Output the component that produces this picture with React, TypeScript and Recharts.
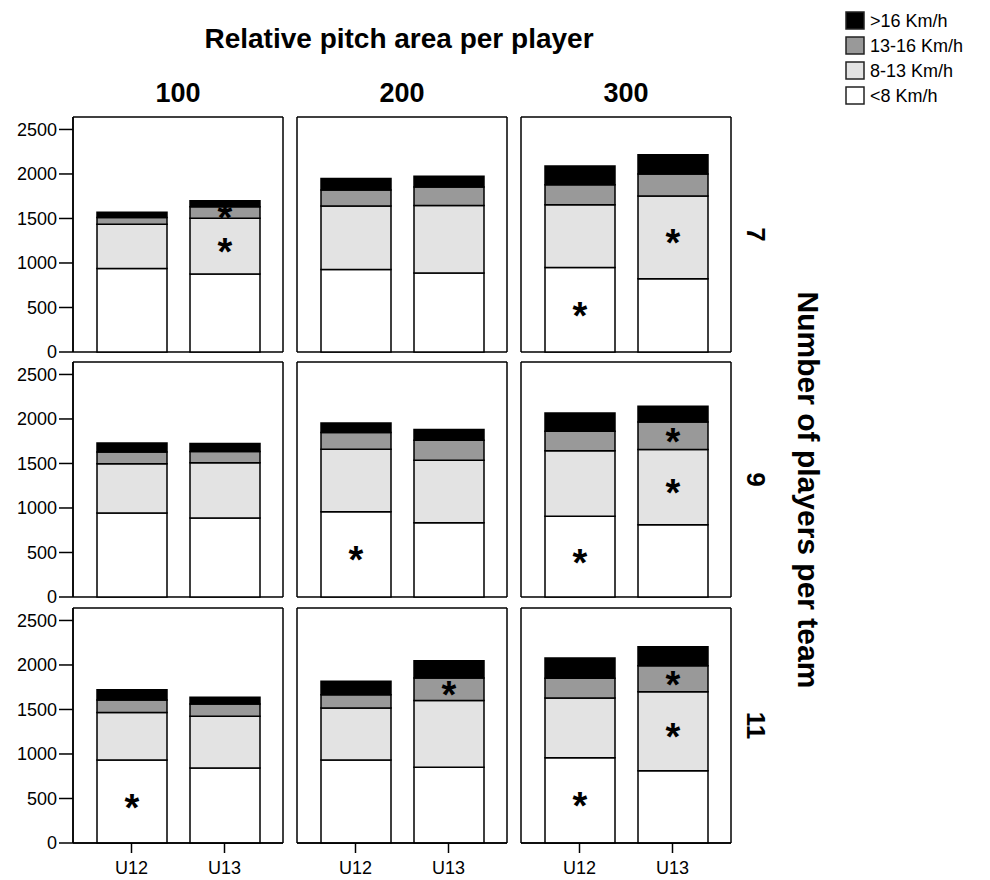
import { BarChart, Bar, XAxis, YAxis, CartesianGrid, LabelList } from 'recharts';

const FONT = '"Liberation Sans", Arial, Helvetica, sans-serif';

const areaPerPlayer = ['100', '200', '300'];
const playersPerTeam = ['7', '9', '11'];
const ageGroups = ['U12', 'U13'];
const yTicks = [0, 500, 1000, 1500, 2000, 2500];

// distance covered per speed zone, one [U12, U13] pair per panel
// panels run row by row: 7 players (100, 200, 300), 9 players, 11 players
const under8 = [
    [937, 877], [926, 888], [949, 822],
    [944, 888], [959, 835], [907, 813],
    [932, 843], [932, 850], [958, 812],
];
const from8to13 = [
    [498, 625], [715, 759], [706, 930],
    [552, 619], [702, 702], [735, 844],
    [535, 580], [585, 752], [671, 888],
];
const from13to16 = [
    [75, 131], [178, 206], [223, 249],
    [134, 128], [187, 224], [220, 309],
    [140, 139], [149, 252], [221, 292],
];
const over16 = [
    [60, 67], [130, 122], [212, 216],
    [101, 89], [107, 120], [205, 176],
    [115, 74], [150, 194], [229, 214],
];

// segments flagged with an asterisk: [panel, age group, series key]
const significant: [number, string, string][] = [
    [0, 'U13', 'mid'], [0, 'U13', 'high'],
    [2, 'U12', 'low'], [2, 'U13', 'mid'],
    [4, 'U12', 'low'],
    [5, 'U12', 'low'], [5, 'U13', 'mid'], [5, 'U13', 'high'],
    [6, 'U12', 'low'],
    [7, 'U13', 'high'],
    [8, 'U12', 'low'], [8, 'U13', 'mid'], [8, 'U13', 'high'],
];

const series = [
    { key: 'low', name: '<8 Km/h', fill: '#ffffff', values: under8 },
    { key: 'mid', name: '8-13 Km/h', fill: '#e3e3e3', values: from8to13 },
    { key: 'high', name: '13-16 Km/h', fill: '#999999', values: from13to16 },
    { key: 'sprint', name: '>16 Km/h', fill: '#000000', values: over16 },
];

const PANEL_W = 210;
const PANEL_H = 235;
const colLeft = [73, 297, 521];
const rowTop = [117, 362, 608];
const M = 12;
const STAR = 38;
const line = { stroke: '#000', strokeWidth: 1.5 };

const starLabel = (panel: number, key: string) => (props: any) => {
    const age = ageGroups[props.index];
    if (!significant.some(([p, a, k]) => p === panel && a === age && k === key)) return null;
    const vb = props.viewBox ?? props;
    const cx = vb.x + vb.width / 2;
    const cy = vb.y + vb.height / 2;
    return (
        <text x={cx} y={cy + STAR * 0.5} textAnchor='middle' fontSize={STAR}
            fontWeight='bold' fontFamily={FONT} fill='#000'>*</text>
    );
};

// panel frame: grid lines only on the edges of the plot area
const frameRows = ({ offset }: any) => [offset.top, offset.top + offset.height];
const frameCols = ({ offset }: any) => [offset.left, offset.left + offset.width];

const Panel = ({ row, col }: { row: number; col: number }) => {
    const panel = row * 3 + col;
    const data = ageGroups.map((age, i) => {
        const d: Record<string, string | number> = { age };
        series.forEach((s) => (d[s.key] = s.values[panel][i]));
        return d;
    });
    const yW = col === 0 ? 73 : 0;
    const xH = row === 2 ? 40 : 0;
    const tickStyle = { fill: '#000', fontSize: 18, fontFamily: FONT };

    return (
        <div style={{ position: 'absolute', left: colLeft[col] - yW - M, top: rowTop[row] - M }}>
            <BarChart
                width={yW + PANEL_W + 2 * M}
                height={PANEL_H + xH + 2 * M}
                data={data}
                margin={{ top: M, right: M, bottom: M, left: M }}
                barSize={70}
            >
                <CartesianGrid stroke='#000' strokeWidth={1.5}
                    horizontalCoordinatesGenerator={frameRows}
                    verticalCoordinatesGenerator={frameCols} />
                <XAxis
                    dataKey='age'
                    interval={0}
                    padding={{ left: 12, right: 12 }}
                    height={xH}
                    tick={row === 2 ? tickStyle : false}
                    tickLine={row === 2 ? line : false}
                    tickSize={10}
                    tickMargin={8}
                    axisLine={line}
                />
                <YAxis
                    type='number'
                    domain={[0, 2640]}
                    ticks={yTicks}
                    interval={0}
                    width={yW}
                    tick={col === 0 ? tickStyle : false}
                    tickLine={col === 0 ? line : false}
                    tickSize={14}
                    tickMargin={2}
                    axisLine={line}
                />
                {series.map((s) => (
                    <Bar key={s.key} dataKey={s.key} name={s.name} stackId='speed' fill={s.fill}
                        stroke='#000' strokeWidth={1.5} isAnimationActive={false}>
                        <LabelList dataKey={s.key} content={starLabel(panel, s.key)} />
                    </Bar>
                ))}
            </BarChart>
        </div>
    );
};

export default function App() {
    const legend = [...series].reverse();
    return (
        <div style={{ position: 'absolute', left: 0, top: 0, width: 990, height: 880, background: '#fff', fontFamily: FONT }}>
            {playersPerTeam.map((_, r) =>
                areaPerPlayer.map((_, c) => <Panel key={`${r}-${c}`} row={r} col={c} />)
            )}
            <svg width={990} height={880} style={{ position: 'absolute', left: 0, top: 0, pointerEvents: 'none' }}>
                <text x={399} y={48} textAnchor='middle' fontSize={28} fontWeight='bold' fontFamily={FONT}>
                    Relative pitch area per player
                </text>
                {areaPerPlayer.map((a, c) => (
                    <text key={a} x={colLeft[c] + PANEL_W / 2} y={102} textAnchor='middle'
                        fontSize={27} fontWeight='bold' fontFamily={FONT}>{a}</text>
                ))}
                {playersPerTeam.map((n, r) => {
                    const cy = rowTop[r] + PANEL_H / 2;
                    return (
                        <text key={n} x={756} y={cy} dy='0.36em' textAnchor='middle' fontSize={26}
                            fontWeight='bold' fontFamily={FONT} transform={`rotate(90 756 ${cy})`}>{n}</text>
                    );
                })}
                <text x={809} y={490} dy='0.36em' textAnchor='middle' fontSize={30} fontWeight='bold'
                    fontFamily={FONT} transform='rotate(90 809 490)'>Number of players per team</text>
                {legend.map((s, i) => (
                    <g key={s.key}>
                        <rect x={846} y={12 + i * 25} width={18} height={17} fill={s.fill} stroke='#222' strokeWidth={1.5} />
                        <text x={870} y={20.5 + i * 25} dy='0.36em' fontSize={18} fontFamily={FONT}>{s.name}</text>
                    </g>
                ))}
            </svg>
        </div>
    );
}
